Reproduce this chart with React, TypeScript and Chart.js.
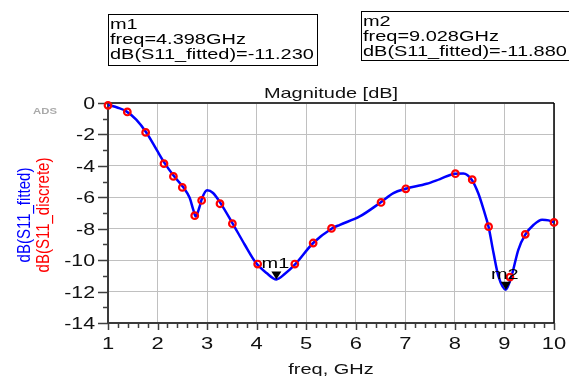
import React, { useEffect, useRef } from "react";
import { Chart, registerables } from "chart.js";

Chart.register(...registerables);

// Fitted curve (dB(S11_fitted))
const fitFreq = [1.0, 1.2, 1.37, 1.57, 1.78, 1.98, 2.15, 2.33, 2.52, 2.65, 2.72, 2.77, 2.84, 2.9, 3.0, 3.12, 3.27, 3.51, 3.76, 3.98, 4.2, 4.398, 4.57, 4.77, 5.14, 5.51, 5.68, 6.08, 6.5, 6.76, 7.01, 7.43, 7.7, 8.0, 8.17, 8.34, 8.47, 8.58, 8.68, 8.78, 8.88, 9.028, 9.15, 9.28, 9.42, 9.59, 9.76, 9.89, 10.0];
const fitDb = [-0.12, -0.3, -0.53, -1.06, -1.91, -2.97, -3.86, -4.65, -5.37, -6.05, -6.79, -7.22, -6.68, -6.05, -5.56, -5.73, -6.37, -7.64, -9.02, -10.15, -10.82, -11.23, -10.87, -10.29, -8.91, -8.0, -7.75, -7.22, -6.33, -5.73, -5.46, -5.14, -4.84, -4.5, -4.48, -4.88, -5.73, -6.79, -7.89, -9.55, -11.04, -11.88, -10.93, -9.34, -8.38, -7.75, -7.43, -7.47, -7.6];

// Discrete points (dB(S11_discrete))
const discFreq = [1.0, 1.39, 1.76, 2.13, 2.32, 2.5, 2.75, 2.89, 3.26, 3.51, 4.02, 4.77, 5.14, 5.51, 6.51, 7.01, 8.01, 8.35, 8.68, 9.11, 9.42, 10.0];
const discDb = [-0.15, -0.57, -1.87, -3.86, -4.67, -5.37, -7.17, -6.2, -6.41, -7.68, -10.25, -10.25, -8.91, -7.98, -6.33, -5.46, -4.5, -4.88, -7.87, -11.08, -8.36, -7.6];

// Markers
const markerNames = ["m1", "m2"];
const markerFreq = [4.398, 9.028];
const markerDb = [-11.23, -11.88];

const titleText = "Magnitude [dB]";
const xTitle = "freq, GHz";
const yTitleFitted = "dB(S11_fitted)";
const yTitleDiscrete = "dB(S11_discrete)";

const FONT = '"Liberation Sans", Arial, sans-serif';
const SX = 1.33;

function stext(ctx: CanvasRenderingContext2D, s: string, x: number, y: number, align: CanvasTextAlign, size: number, color: string, sx = SX, bold = false) {
  ctx.save();
  ctx.translate(x, y);
  ctx.scale(sx, 1);
  ctx.font = `${bold ? "bold " : ""}${size}px ${FONT}`;
  ctx.fillStyle = color;
  ctx.textAlign = align;
  ctx.textBaseline = "alphabetic";
  ctx.fillText(s, 0, 0);
  ctx.restore();
}

function vtext(ctx: CanvasRenderingContext2D, s: string, x: number, y: number, size: number, color: string, sy = 1.2) {
  ctx.save();
  ctx.translate(x, y);
  ctx.rotate(-Math.PI / 2);
  ctx.scale(1, sy);
  ctx.font = `${size}px ${FONT}`;
  ctx.fillStyle = color;
  ctx.textAlign = "center";
  ctx.textBaseline = "alphabetic";
  ctx.fillText(s, 0, 0);
  ctx.restore();
}

const adsPlugin = {
  id: "adsDecor",
  beforeDatasetsDraw(chart: any) {
    const { ctx, chartArea: a, scales } = chart;
    const xs = scales.x, ys = scales.y;
    ctx.save();
    ctx.strokeStyle = "#404040";
    ctx.lineWidth = 1.5;
    ctx.beginPath();
    for (let k = 0; k <= 45; k++) {
      const v = 1 + k * 0.2;
      const px = Math.round(xs.getPixelForValue(v)) + 0.5;
      const major = k % 5 === 0;
      ctx.moveTo(px, a.bottom);
      ctx.lineTo(px, a.bottom + (major ? 7 : 5));
    }
    for (let v = 0; v >= -14; v -= 1) {
      const py = Math.round(ys.getPixelForValue(v)) + 0.5;
      const major = v % 2 === 0;
      ctx.moveTo(a.left, py);
      ctx.lineTo(a.left - (major ? 10 : 5), py);
    }
    ctx.stroke();
    ctx.strokeStyle = "#3a3a3a";
    ctx.lineWidth = 2;
    ctx.beginPath();
    ctx.moveTo(a.left, a.top);
    ctx.lineTo(a.right, a.top);
    ctx.moveTo(a.left, a.top);
    ctx.lineTo(a.left, a.bottom);
    ctx.lineTo(a.right, a.bottom);
    ctx.stroke();
    ctx.strokeStyle = "#000";
    ctx.lineWidth = 1.5;
    ctx.beginPath();
    ctx.moveTo(a.right, a.top);
    ctx.lineTo(a.right, a.bottom);
    ctx.stroke();
    ctx.restore();
  },
  afterDraw(chart: any) {
    const { ctx, chartArea: a, scales } = chart;
    const xs = scales.x, ys = scales.y;
    xs.ticks.forEach((t: any) => {
      stext(ctx, String(t.value), xs.getPixelForValue(t.value), a.bottom + 25.5, "center", 16.5, "#111");
    });
    ys.ticks.forEach((t: any) => {
      stext(ctx, String(t.value), a.left - 13, ys.getPixelForValue(t.value) + 6, "right", 16, "#111");
    });
    const cx = (a.left + a.right) / 2;
    stext(ctx, titleText, cx, a.top - 5, "center", 15, "#111");
    stext(ctx, xTitle, cx, 374, "center", 15, "#111");
    const cy = (a.top + a.bottom) / 2 + 2;
    vtext(ctx, yTitleFitted, 30, cy, 15, "#0000ff");
    vtext(ctx, yTitleDiscrete, 49, cy, 15, "#ff0000");
    stext(ctx, "ADS", 45, 114, "center", 8.5, "#aaaaaa", SX, true);
    markerNames.forEach((name, i) => {
      const px = xs.getPixelForValue(markerFreq[i]);
      const py = ys.getPixelForValue(markerDb[i]);
      ctx.save();
      ctx.fillStyle = "#000";
      ctx.beginPath();
      ctx.moveTo(px - 5, py - 8);
      ctx.lineTo(px + 5, py - 8);
      ctx.lineTo(px, py);
      ctx.closePath();
      ctx.fill();
      ctx.restore();
      stext(ctx, name, px - 1, py - 11, "center", 15, "#000");
    });
    const boxes = [
      { x: 108.5, y: 14.5, w: 209, h: 51 },
      { x: 361.5, y: 11.5, w: 209, h: 49 },
    ];
    markerNames.forEach((name, i) => {
      const b = boxes[i];
      ctx.save();
      ctx.fillStyle = "#fff";
      ctx.fillRect(b.x, b.y, b.w, b.h);
      ctx.strokeStyle = "#000";
      ctx.lineWidth = 1;
      ctx.strokeRect(b.x, b.y, b.w, b.h);
      ctx.restore();
      const lines = [name, `freq=${markerFreq[i].toFixed(3)}GHz`, `dB(S11_fitted)=${markerDb[i].toFixed(3)}`];
      lines.forEach((l, j) => {
        stext(ctx, l, b.x + 1.5, b.y + 14 + j * 15, "left", 15, "#000");
      });
    });
  },
};

export default function App() {
  const ref = useRef<HTMLCanvasElement | null>(null);
  useEffect(() => {
    if (!ref.current) return;
    const chart = new Chart(ref.current, {
      type: "scatter",
      data: {
        datasets: [
          {
            label: "discrete",
            data: discFreq.map((f, i) => ({ x: f, y: discDb[i] })),
            showLine: false,
            pointRadius: 3.3,
            pointBorderWidth: 2.2,
            borderColor: "#ff0000",
            backgroundColor: "rgba(255,255,255,0)",
            order: 0,
            clip: 6,
          },
          {
            label: "fitted",
            data: fitFreq.map((f, i) => ({ x: f, y: fitDb[i] })),
            showLine: true,
            pointRadius: 0,
            borderColor: "#0000ff",
            borderWidth: 2.5,
            cubicInterpolationMode: "monotone",
            order: 1,
            clip: 4,
          },
        ],
      },
      options: {
        animation: false,
        responsive: true,
        maintainAspectRatio: false,
        layout: { padding: { left: 0, right: 15, top: 103, bottom: 0 } },
        plugins: { legend: { display: false }, tooltip: { enabled: false }, title: { display: false } },
        scales: {
          x: {
            type: "linear",
            min: 1,
            max: 10,
            ticks: { display: false, stepSize: 1 },
            grid: { color: "#c0c0c0", lineWidth: 1, drawTicks: false },
            border: { display: false },
            afterFit: (s: any) => { s.height = 53; },
          },
          y: {
            type: "linear",
            min: -14,
            max: 0,
            ticks: { display: false, stepSize: 2 },
            grid: { color: "#c0c0c0", lineWidth: 1, drawTicks: false },
            border: { display: false },
            afterFit: (s: any) => { s.width = 108; },
          },
        },
      } as any,
      plugins: [adsPlugin],
    });
    return () => chart.destroy();
  }, []);
  return (
    <div style={{ position: "absolute", left: 0, top: 0, width: 569, height: 376, background: "#fff" }}>
      <canvas ref={ref} />
    </div>
  );
}
